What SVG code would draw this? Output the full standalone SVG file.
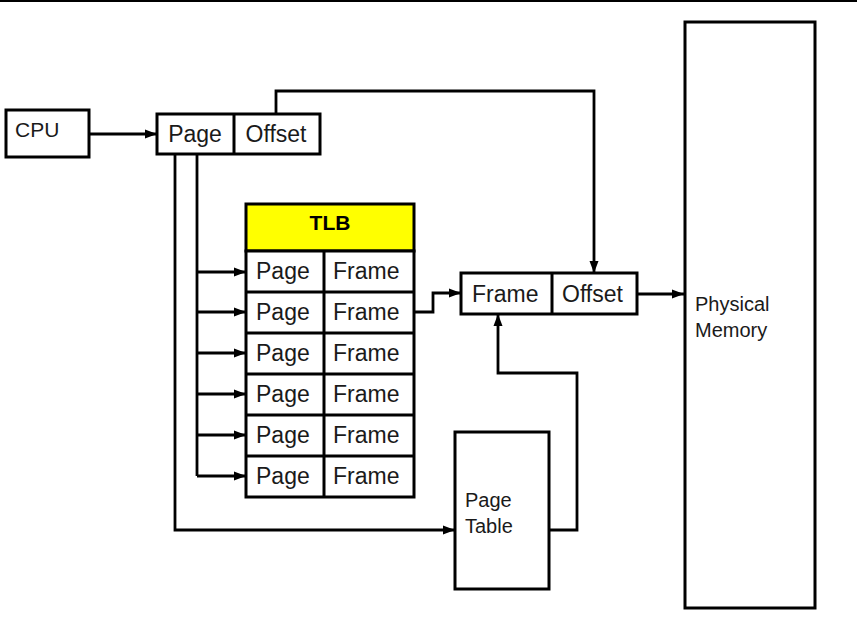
<svg xmlns="http://www.w3.org/2000/svg" width="857" height="628" viewBox="0 0 857 628">
<defs>
<style>
.box{fill:#fff;stroke:#000;stroke-width:3}
.hdr{fill:#ffff00;stroke:#000;stroke-width:3}
.ln{fill:none;stroke:#000;stroke-width:2.8}
.t{font-family:"Liberation Sans",Arial,sans-serif;fill:#1a1a1a}
.l{font-size:23px}
.s{font-size:20px}
.b{font-family:"Liberation Sans",Arial,sans-serif;font-weight:bold;font-size:21px;fill:#000}
</style>
<marker id="ah" viewBox="0 0 12 10" refX="12" refY="5" markerWidth="12" markerHeight="10" markerUnits="userSpaceOnUse" orient="auto">
<path d="M0,0.5 L12,5 L0,9.5 Z" fill="#000"/>
</marker>
</defs>
<rect width="857" height="628" fill="#fff"/>
<line x1="0" y1="1" x2="857" y2="1" stroke="#000" stroke-width="2"/>

<g id="connectors">
<path class="ln" d="M89,134 H157" marker-end="url(#ah)"/>
<path class="ln" d="M276,114 V91 H594 V273" marker-end="url(#ah)"/>
<path class="ln" d="M197,154 V476"/>
<path class="ln" d="M197,272 H246" marker-end="url(#ah)"/>
<path class="ln" d="M197,312 H246" marker-end="url(#ah)"/>
<path class="ln" d="M197,353 H246" marker-end="url(#ah)"/>
<path class="ln" d="M197,394 H246" marker-end="url(#ah)"/>
<path class="ln" d="M197,435 H246" marker-end="url(#ah)"/>
<path class="ln" d="M197,476 H246" marker-end="url(#ah)"/>
<path class="ln" d="M175,154 V530 H455" marker-end="url(#ah)"/>
<path class="ln" d="M414,312 H433 V293 H461" marker-end="url(#ah)"/>
<path class="ln" d="M549,530 H577 V373 H498 V314" marker-end="url(#ah)"/>
<path class="ln" d="M637,294 H684" marker-end="url(#ah)"/>
</g>

<g id="cpu">
<rect class="box" x="6" y="110" width="83" height="47"/>
<text class="t" x="15" y="137" font-size="21">CPU</text>
</g>

<g id="virtual-address">
<rect class="box" x="157" y="114" width="163" height="40"/>
<line x1="234" y1="114" x2="234" y2="154" stroke="#000" stroke-width="3"/>
<text class="t l" x="195" y="142" text-anchor="middle">Page</text>
<text class="t l" x="276" y="142" text-anchor="middle">Offset</text>
</g>

<g id="tlb">
<rect class="hdr" x="246" y="204" width="168" height="47"/>
<text class="b" x="330" y="230" text-anchor="middle">TLB</text>
<rect class="box" x="246" y="251" width="168" height="246"/>
<line x1="324" y1="251" x2="324" y2="497" stroke="#000" stroke-width="3"/>
<g stroke="#000" stroke-width="3">
<line x1="246" y1="292" x2="414" y2="292"/>
<line x1="246" y1="333" x2="414" y2="333"/>
<line x1="246" y1="374" x2="414" y2="374"/>
<line x1="246" y1="415" x2="414" y2="415"/>
<line x1="246" y1="456" x2="414" y2="456"/>
</g>
<g class="t l">
<text x="256" y="279">Page</text><text x="333" y="279">Frame</text>
<text x="256" y="320">Page</text><text x="333" y="320">Frame</text>
<text x="256" y="361">Page</text><text x="333" y="361">Frame</text>
<text x="256" y="402">Page</text><text x="333" y="402">Frame</text>
<text x="256" y="443">Page</text><text x="333" y="443">Frame</text>
<text x="256" y="484">Page</text><text x="333" y="484">Frame</text>
</g>
</g>

<g id="physical-address">
<rect class="box" x="461" y="273" width="176" height="41"/>
<line x1="552" y1="273" x2="552" y2="314" stroke="#000" stroke-width="3"/>
<text class="t l" x="472" y="302">Frame</text>
<text class="t l" x="562" y="302">Offset</text>
</g>

<g id="page-table">
<rect class="box" x="455" y="432" width="94" height="157"/>
<text class="t s" x="465" y="507">Page</text>
<text class="t s" x="465" y="533">Table</text>
</g>

<g id="physical-memory">
<rect class="box" x="685" y="22" width="130" height="586"/>
<text class="t s" x="695" y="311">Physical</text>
<text class="t s" x="695" y="337">Memory</text>
</g>
</svg>
